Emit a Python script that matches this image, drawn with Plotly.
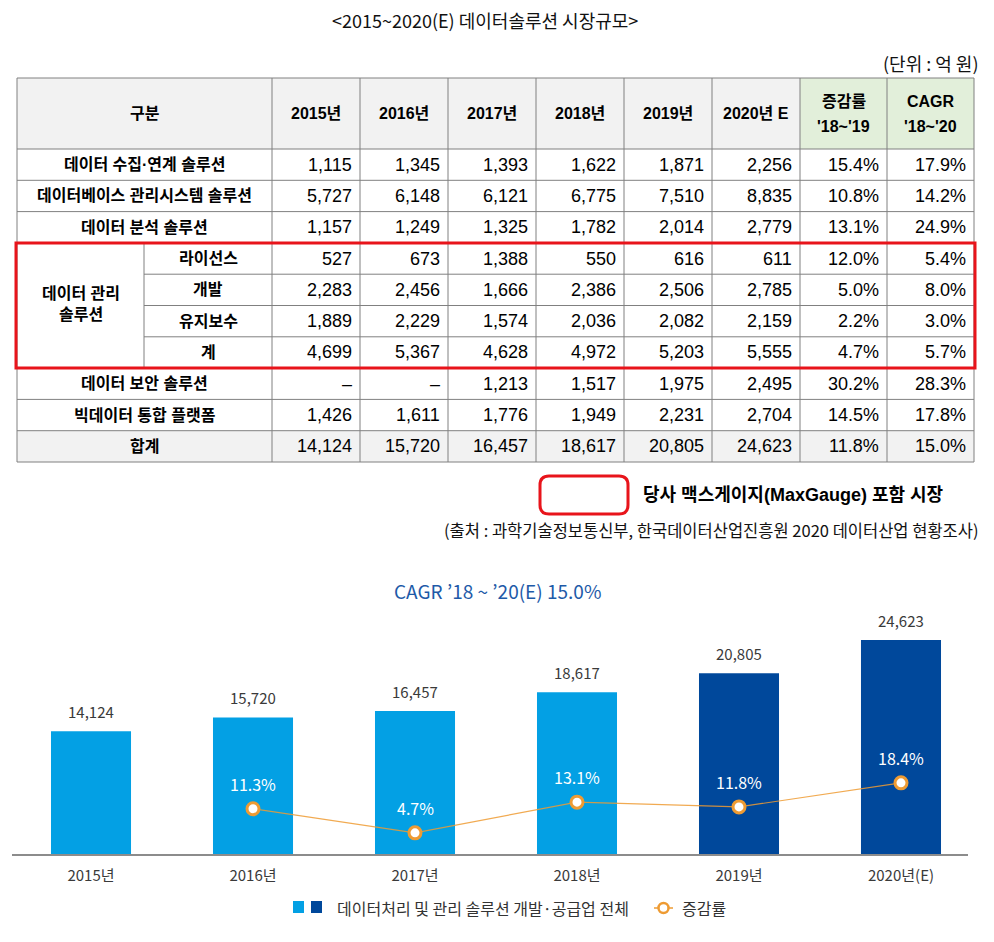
import plotly.graph_objects as go

W, H = 994, 942
PAGE_OFF = 8  # default body margin of the html page
FW, FH = W - PAGE_OFF, H - PAGE_OFF

# ---------------- data ----------------
title_text = "&lt;2015~2020(E) 데이터솔루션 시장규모&gt;"
unit_text = "(단위 : 억 원)"
header_label = "구분"
year_headers = ["2015년", "2016년", "2017년", "2018년", "2019년", "2020년 E"]
rate_headers = [["증감률", "'18~'19"], ["CAGR", "'18~'20"]]

row_labels = ["데이터 수집·연계 솔루션", "데이터베이스 관리시스템 솔루션", "데이터 분석 솔루션",
              "라이선스", "개발", "유지보수", "계",
              "데이터 보안 솔루션", "빅데이터 통합 플랫폼", "합계"]
group_label = "데이터 관리<br>솔루션"

collect = [1115, 1345, 1393, 1622, 1871, 2256]
dbms = [5727, 6148, 6121, 6775, 7510, 8835]
analysis = [1157, 1249, 1325, 1782, 2014, 2779]
license_ = [527, 673, 1388, 550, 616, 611]
develop = [2283, 2456, 1666, 2386, 2506, 2785]
maintain = [1889, 2229, 1574, 2036, 2082, 2159]
subtotal = [4699, 5367, 4628, 4972, 5203, 5555]
security = [None, None, 1213, 1517, 1975, 2495]
bigdata = [1426, 1611, 1776, 1949, 2231, 2704]
total = [14124, 15720, 16457, 18617, 20805, 24623]
table_rows = [collect, dbms, analysis, license_, develop, maintain, subtotal, security, bigdata, total]
growth_18_19 = [15.4, 10.8, 13.1, 12.0, 5.0, 2.2, 4.7, 30.2, 14.5, 11.8]
cagr_18_20 = [17.9, 14.2, 24.9, 5.4, 8.0, 3.0, 5.7, 28.3, 17.8, 15.0]

legend_box_text = "당사 맥스게이지(MaxGauge) 포함 시장"
source_text = "(출처 : 과학기술정보통신부, 한국데이터산업진흥원 2020 데이터산업 현황조사)"

chart_title = "CAGR ’18 ~ ’20(E) 15.0%"
chart_years = ["2015년", "2016년", "2017년", "2018년", "2019년", "2020년(E)"]
market_size = total
growth_rate = [None, 11.3, 4.7, 13.1, 11.8, 18.4]
bar_legend_text = "데이터처리 및 관리 솔루션 개발·공급업 전체"
line_legend_text = "증감률"

# ---------------- styles / layout constants ----------------
LIGHT = "#03A0E4"
DARK = "#00489B"
ORANGE = "#EE9B33"
RED = "#E8141B"
GRID = "#808080"
TXT_FONT = "Liberation Sans, Noto Sans CJK KR"
CJK = "Noto Sans CJK KR"

def px(x):
    return (x - PAGE_OFF) / FW

def py(y):
    return 1 - (y - PAGE_OFF) / FH

TL, TSUB, TLAB, TR = 17, 144, 272, 974
col_edges = [272, 360, 448, 536, 624, 712, 800, 887, 974]
HEAD_TOP, HEAD_BOT, ROW_H = 78, 149, 31.3
row_edges = [HEAD_TOP] + [HEAD_BOT + i * ROW_H for i in range(len(table_rows) + 1)]
GROUP = (3, 6)  # rows of merged group

shapes = []
annotations = []

def rect(x0, y0, x1, y1, fill=None, line=None, lw=0, layer=None):
    shapes.append(dict(type="rect", xref="paper", yref="paper",
                       x0=px(x0), x1=px(x1), y0=py(y1), y1=py(y0),
                       fillcolor=fill if fill else "rgba(0,0,0,0)",
                       line=dict(color=line if line else "rgba(0,0,0,0)", width=lw),
                       layer=layer if layer else ("below" if fill else "above")))

def hline(x0, x1, y, color=GRID, w=1):
    shapes.append(dict(type="line", xref="paper", yref="paper",
                       x0=px(x0), x1=px(x1), y0=py(y), y1=py(y),
                       line=dict(color=color, width=w)))

def vline(x, y0, y1, color=GRID, w=1):
    shapes.append(dict(type="line", xref="paper", yref="paper",
                       x0=px(x), x1=px(x), y0=py(y0), y1=py(y1),
                       line=dict(color=color, width=w)))

def text(x, y, s, size=16, color="#000", bold=False, xanchor="center", family=TXT_FONT):
    annotations.append(dict(xref="paper", yref="paper", x=px(x), y=py(y),
                            text=("<b>%s</b>" % s) if bold else s, showarrow=False,
                            xanchor=xanchor, yanchor="middle",
                            font=dict(size=size, color=color, family=family)))

# ---------------- table ----------------
text(W / 2 - 12, 20, title_text, size=18, color="#111", family=CJK)
text(981, 63, unit_text, size=18, color="#111", xanchor="right", family=CJK)

# fills
rect(TL, HEAD_TOP, col_edges[6], HEAD_BOT, fill="#F2F2F2")
rect(col_edges[6], HEAD_TOP, TR, HEAD_BOT, fill="#E2EFDA")
rect(TL, row_edges[-2], TR, row_edges[-1], fill="#F2F2F2")

# grid
for k, y in enumerate(row_edges):
    inner = GROUP[0] + 2 <= k <= GROUP[1] + 1
    hline(TSUB if inner else TL, TR, y)
for x in [TL] + col_edges:
    vline(x, HEAD_TOP, row_edges[-1])
vline(TSUB, row_edges[GROUP[0] + 1], row_edges[GROUP[1] + 2])

# header texts
hy = (HEAD_TOP + HEAD_BOT) / 2
text((TL + TLAB) / 2, hy, header_label, bold=True)
for i, h in enumerate(year_headers):
    text((col_edges[i] + col_edges[i + 1]) / 2, hy, h, bold=True)
for j, lines in enumerate(rate_headers):
    cx = (col_edges[6 + j] + col_edges[7 + j]) / 2
    text(cx, hy - 12, lines[0], bold=True)
    text(cx, hy + 13, lines[1], bold=True)

# rows
for r, (lab, vals) in enumerate(zip(row_labels, table_rows)):
    y0, y1 = row_edges[r + 1], row_edges[r + 2]
    cy = (y0 + y1) / 2
    if GROUP[0] <= r <= GROUP[1]:
        text((TSUB + TLAB) / 2, cy, lab, bold=True)
    else:
        text((TL + TLAB) / 2, cy, lab, bold=True)
    cells = ["–" if v is None else f"{v:,}" for v in vals]
    cells += [f"{growth_18_19[r]:.1f}%", f"{cagr_18_20[r]:.1f}%"]
    for i, c in enumerate(cells):
        text(col_edges[i + 1] - 6, cy, c, size=18, xanchor="right")

gy0, gy1 = row_edges[GROUP[0] + 1], row_edges[GROUP[1] + 2]
text((TL + TSUB) / 2, (gy0 + gy1) / 2 - 2, group_label, bold=True)

# red highlight box
rect(TL - 1, gy0, TR + 1, gy1, line=RED, lw=3)

# legend box (rounded) + texts
bx0, bx1, by0, by1, rr = 540, 628, 476, 514, 9
path = ("M {a},{b} L {c},{b} Q {d},{b} {d},{e} L {d},{f} Q {d},{g} {c},{g} "
        "L {a},{g} Q {h},{g} {h},{f} L {h},{e} Q {h},{b} {a},{b} Z").format(
    a=px(bx0 + rr), b=py(by0), c=px(bx1 - rr), d=px(bx1), e=py(by0 + rr),
    f=py(by1 - rr), g=py(by1), h=px(bx0))
shapes.append(dict(type="path", xref="paper", yref="paper", path=path,
                   line=dict(color=RED, width=3)))
text(641, 495, legend_box_text, size=18, bold=True, xanchor="left")
text(981, 530, source_text, size=16.5, color="#111", xanchor="right", family=CJK)

# ---------------- chart ----------------
text(W / 2, 590, chart_title, size=19, color="#1E5AA8", family=CJK)

bar_colors = [LIGHT, LIGHT, LIGHT, LIGHT, DARK, DARK]

fig = go.Figure()
fig.add_trace(go.Bar(x=chart_years, y=market_size, marker=dict(color=bar_colors, line=dict(width=0)),
                     width=0.494, hoverinfo="skip", showlegend=False))
fig.add_trace(go.Scatter(x=chart_years[1:], y=growth_rate[1:], yaxis="y2", mode="lines+markers",
                         line=dict(color="rgba(238,155,51,0.85)", width=1.2),
                         marker=dict(symbol="circle", size=12, color="white",
                                     line=dict(color=ORANGE, width=3)),
                         hoverinfo="skip", showlegend=False))

for cat, v in zip(chart_years, market_size):
    annotations.append(dict(xref="x", yref="y", x=cat, y=v, text=f"{v:,}", showarrow=False,
                            yanchor="bottom", yshift=7,
                            font=dict(size=15, color="#3a3a3a", family=CJK)))
for cat, g in zip(chart_years, growth_rate):
    if g is None:
        continue
    annotations.append(dict(xref="x", yref="y2", x=cat, y=g, text=f"{g:.1f}%", showarrow=False,
                            yanchor="middle", yshift=25,
                            font=dict(size=16, color="white", family=CJK)))

# chart legend
rect(293, 901, 304, 913, fill=LIGHT, layer="above")
rect(311, 901, 322, 913, fill=DARK, layer="above")
text(335, 908, bar_legend_text, size=16, color="#333", xanchor="left", family=CJK)
hline(654, 673, 908, color=ORANGE, w=1.5)
shapes.append(dict(type="circle", xref="paper", yref="paper",
                   x0=px(658.5), x1=px(668.5), y0=py(913), y1=py(903),
                   fillcolor="white", line=dict(color=ORANGE, width=2.5)))
text(680, 908, line_legend_text, size=16, color="#333", xanchor="left", family=CJK)

# axes geometry: bars centred every 162 px, baseline at y=854
X_LEFT, X_RIGHT, BASE, TOP = 12, 968, 854, 610
fig.update_layout(
    width=FW, height=FH, margin=dict(l=0, r=0, t=0, b=0),
    paper_bgcolor="white", plot_bgcolor="white",
    showlegend=False,
    xaxis=dict(domain=[px(X_LEFT), px(X_RIGHT)], range=[-0.4877, 5.4136],
               showline=True, linecolor="#8c8c8c", linewidth=1.5,
               ticks="outside", ticklen=7, tickcolor="rgba(0,0,0,0)",
               tickfont=dict(size=15, color="#3a3a3a", family=CJK),
               showgrid=False, zeroline=False, fixedrange=True),
    yaxis=dict(domain=[py(BASE), py(TOP)], range=[0, 28078], visible=False,
               showgrid=False, zeroline=False),
    yaxis2=dict(overlaying="y", range=[-1.1, 65.75], visible=False,
                showgrid=False, zeroline=False),
    shapes=shapes, annotations=annotations,
    font=dict(family=CJK),
)

fig.write_html("out.html")
